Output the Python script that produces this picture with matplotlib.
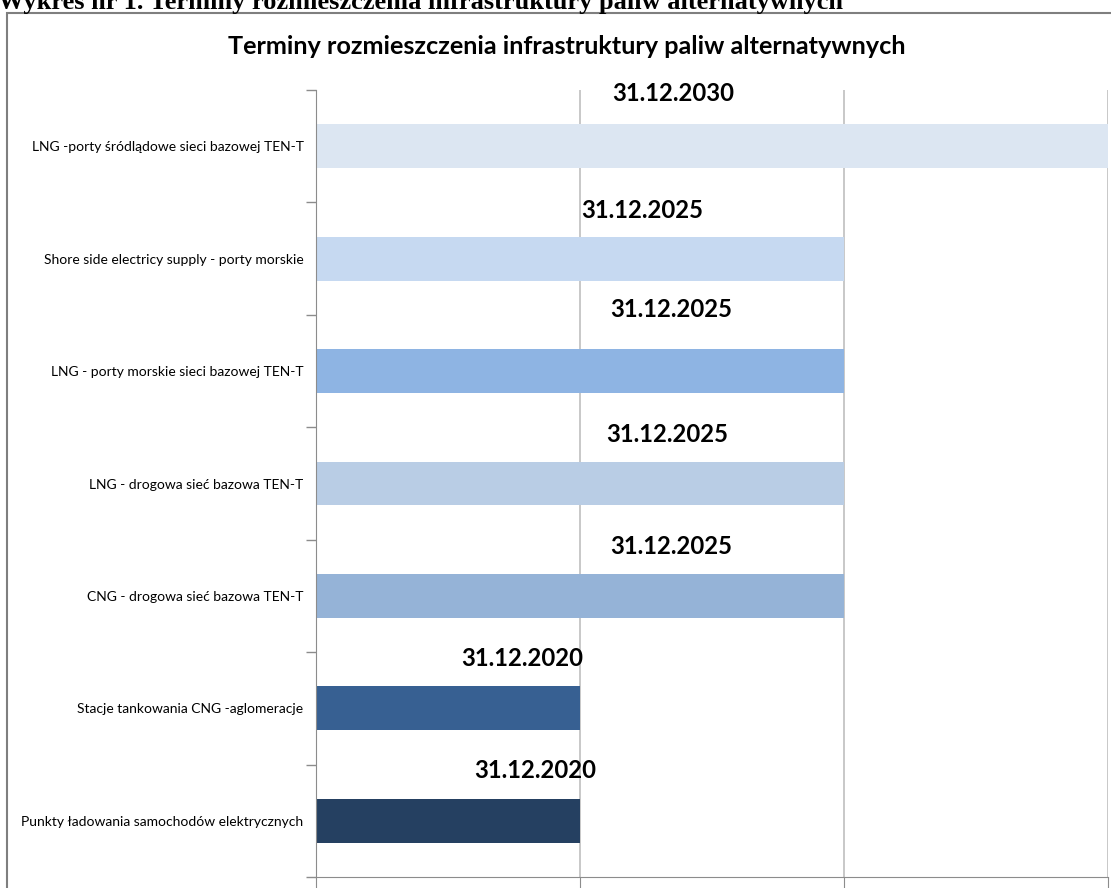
import datetime as dt
import matplotlib
matplotlib.use("Agg")
import matplotlib.pyplot as plt
import matplotlib.dates as mdates
from matplotlib.patches import Rectangle
from matplotlib import transforms

# ---------------- data ----------------
categories = [
    "LNG -porty śródlądowe sieci bazowej TEN-T",
    "Shore side electricy supply - porty morskie",
    "LNG - porty morskie sieci bazowej TEN-T",
    "LNG - drogowa sieć bazowa TEN-T",
    "CNG - drogowa sieć bazowa TEN-T",
    "Stacje tankowania CNG -aglomeracje",
    "Punkty ładowania samochodów elektrycznych",
]
deadlines = ["2030-12-31", "2025-12-31", "2025-12-31", "2025-12-31",
             "2025-12-31", "2020-12-31", "2020-12-31"]
deadline_labels = ["31.12.2030", "31.12.2025", "31.12.2025", "31.12.2025",
                   "31.12.2025", "31.12.2020", "31.12.2020"]
axis_start = "2015-12-31"
axis_end = "2030-12-31"
gridlines = ["2020-12-31", "2025-12-31", "2030-12-31"]

header = "Wykres nr 1. Terminy rozmieszczenia infrastruktury paliw alternatywnych"
title = "Terminy rozmieszczenia infrastruktury paliw alternatywnych"

# ---------------- style ----------------
bar_colors = ["#DCE6F2", "#C6D9F1", "#8EB4E3", "#B9CDE5",
              "#95B3D7", "#376092", "#254061"]
# label offsets (pixels) relative to bar end (x) and bar centre (y)
label_dx = [-435, -202, -173, -177, -173, -58, -45]
label_dy = [53, 48, 62, 49, 49, 50, 50]

W, H = 1111, 888
fig = plt.figure(figsize=(W / 100, H / 100), dpi=100)

def d(s):
    return mdates.date2num(dt.datetime.strptime(s, "%Y-%m-%d"))

x0 = d(axis_start)
ends = [d(s) for s in deadlines]
n = len(categories)
ypos = list(range(n))

ax = fig.add_axes([316 / W, 1 - 877 / H, (1108 - 316) / W, (877 - 90) / H])
ax.barh(ypos, [e - x0 for e in ends], left=x0, height=0.39,
        color=bar_colors, edgecolor="none", zorder=2)
ax.set_xlim(x0, d(axis_end))
ax.set_ylim(n - 0.5, -0.5)

# gridlines
for g in gridlines:
    ax.axvline(d(g), color="#BFBFBF", lw=1.2, zorder=1)

# y ticks at category boundaries, labels centred
ax.set_yticks([i - 0.5 for i in range(n + 1)])
ax.set_yticklabels([])
ax.set_yticks(ypos, minor=True)
ax.set_yticklabels(categories, minor=True, fontsize=10,
                   family=["Lato", "DejaVu Sans"], color="#000000")
ax.tick_params(axis="y", which="minor", length=0, pad=9)
ax.tick_params(axis="y", which="major", length=7, color="#8C8C8C", width=1)
ax.set_xticks([x0] + [d(g) for g in gridlines])
ax.set_xticklabels([])
ax.tick_params(axis="x", length=8, color="#8C8C8C", direction="out")

for s in ["top", "right"]:
    ax.spines[s].set_visible(False)
ax.spines["left"].set_color("#8C8C8C")
ax.spines["bottom"].set_color("#8C8C8C")

# data labels
for i, (e, lab) in enumerate(zip(ends, deadline_labels)):
    off = transforms.offset_copy(ax.transData, fig=fig, x=label_dx[i] * 0.72,
                                 y=label_dy[i] * 0.72, units="points")
    ax.text(e, i, lab, transform=off, ha="center", va="center",
            fontsize=17.2, fontweight="bold",
            family=["Lato", "DejaVu Sans"], color="#000000", clip_on=False)

# chart title
fig.text(567 / W, 1 - 47 / H, title, ha="center", va="center",
         fontsize=18.2, fontweight="bold",
         family=["Lato", "DejaVu Sans"])

# outer chart frame
fig.add_artist(Rectangle((7 / W, -0.1), 1.2, 1 - 13 / H + 0.1,
                         transform=fig.transFigure, fill=False,
                         edgecolor="#7F7F7F", lw=1.5, clip_on=False))

# document header (cut off at the top)
fig.text(-2 / W, 1 - 9 / H, header, ha="left", va="baseline",
         fontsize=19, fontweight="bold",
         family=["Liberation Serif", "DejaVu Serif"])

fig.savefig("out.png", dpi=100)
